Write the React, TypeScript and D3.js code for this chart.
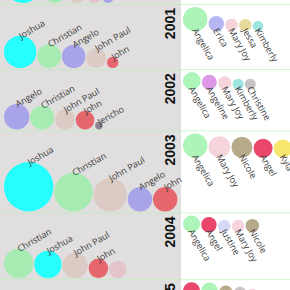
import React, { useMemo } from "react";
import * as d3 from "d3";

const years = [2000, 2001, 2002, 2003, 2004, 2005];

const boyNames: string[][] = [
  ["Joshua", "Christian", "John Paul", "", "Angelo"],
  ["Joshua", "Christian", "Angelo", "John Paul", "John"],
  ["Angelo", "Christian", "John Paul", "John", "Jericho"],
  ["Joshua", "Christian", "John Paul", "Angelo", "John"],
  ["Christian", "Joshua", "John Paul", "John", ""],
  [],
];
const boyValues: number[][] = [
  [578, 230, 135, 92, 47],
  [420, 230, 219, 160, 52],
  [258, 230, 160, 138, 23],
  [976, 596, 446, 238, 238],
  [346, 300, 258, 154, 121],
  [],
];

const girlNames: string[][] = [
  ["Angelica", "Erica", "Mary Joy", "Jessa", "Kimberly"],
  ["Angelica", "Erica", "Mary Joy", "Jessa", "Kimberly"],
  ["Angelica", "Angeline", "Mary Joy", "Kimberly", "Christine"],
  ["Angelica", "Mary Joy", "Nicole", "Angel", "Kyla"],
  ["Angelica", "Angel", "Justine", "Mary Joy", "Nicole"],
  ["Angel", "Angelica", "Nicole", "Christine", "Mary Joy"],
];
const girlValues: number[][] = [
  [194, 78, 78, 58, 48],
  [238, 95, 64, 62, 45],
  [124, 90, 72, 48, 48],
  [238, 187, 176, 144, 135],
  [116, 95, 64, 64, 74],
  [116, 110, 74, 62, 43],
];

const nameColors: Record<string, string> = {
  Joshua: "#26fdfd",
  Christian: "#a6ecb2",
  Angelo: "#a8a4ea",
  "John Paul": "#dccbc4",
  John: "#e6666e",
  Jericho: "#8a8690",
  "": "#e4c4cb",
  Angelica: "#acf4b8",
  Erica: "#b6b6f2",
  "Mary Joy": "#f6d4dc",
  Jessa: "#e6da9e",
  Kimberly: "#9ee4e0",
  Angeline: "#dc9ae6",
  Christine: "#c6c2c6",
  Nicole: "#b6aa8a",
  Angel: "#e8466a",
  Kyla: "#f8e66e",
  Justine: "#d6daf4",
};

const W = 290;
const H = 290;
const GREY_W = 181;
const LABEL_FONT = "9px 'Open Sans'";

function useMeasure() {
  return useMemo(() => {
    const ctx = document.createElement("canvas").getContext("2d");
    return (s: string) => {
      if (!ctx) return s.length * 4.4;
      ctx.font = LABEL_FONT;
      return ctx.measureText(s).width;
    };
  }, []);
}

export default function App() {
  const measure = useMeasure();
  const r = d3.scaleSqrt().domain([0, 1000]).range([0, 25]);

  const layout = useMemo(() => {
    const heights = years.map((_, i) => {
      const bNeed = d3.max(boyValues[i].map((v, j) => 2 * r(v) + measure(boyNames[i][j]) / 2 + 3.1)) ?? 0;
      const gMaxD = 2 * (d3.max(girlValues[i].map((v) => r(v))) ?? 0);
      const gNeed = 3 + gMaxD - 1 + 0.866 * (d3.max(girlNames[i].map((n) => measure(n))) ?? 0) + 5;
      return Math.max(bNeed + 15.5, gNeed);
    });
    const tops: number[] = [];
    let y = 4 - heights[0];
    heights.forEach((h) => {
      tops.push(y);
      y += h;
    });
    const rows = years.map((yr, i) => {
      const top = tops[i];
      const h = heights[i];
      let x = 4;
      const bBottom = top + h - 1;
      const boys = boyValues[i].map((v, j) => {
        const rr = r(v);
        const cx = x + rr;
        x += 2 * rr + 0.8;
        return { name: boyNames[i][j], cx, cy: bBottom - rr, r: rr };
      });
      let gx = 183;
      const gMaxR = d3.max(girlValues[i].map((v) => r(v))) ?? 0;
      const gBottom = top + 3 + 2 * gMaxR;
      const girls = girlValues[i].map((v, j) => {
        const rr = r(v);
        const cx = gx + rr;
        gx += 2 * rr + 1.2;
        return { name: girlNames[i][j], cx, cy: gBottom - rr, r: rr, bottom: gBottom };
      });
      return { year: yr, top, h, boys, girls };
    });
    return rows;
  }, [measure]);

  return (
    <div style={{ position: "absolute", left: 0, top: 0, width: W, height: H }}>
      <svg width={W} height={H} style={{ display: "block", overflow: "hidden", background: "#ffffff" }}>
        <rect x={0} y={0} width={GREY_W} height={H} fill="#e0dede" />
        {layout.map((row) => (
          <line
            key={"l" + row.year}
            x1={0}
            x2={W}
            y1={row.top + row.h + 0.5}
            y2={row.top + row.h + 0.5}
            stroke="#b8f0b8"
            strokeOpacity={0.65}
            strokeWidth={1}
          />
        ))}
        {layout.map((row) => (
          <g key={"r" + row.year}>
            {row.boys.map((b, j) => (
              <circle key={"bc" + j} cx={b.cx} cy={b.cy} r={b.r} fill={nameColors[b.name]} />
            ))}
            {row.girls.map((g, j) => (
              <circle key={"gc" + j} cx={g.cx} cy={g.cy} r={g.r} fill={nameColors[g.name]} />
            ))}
            {row.boys.map((b, j) =>
              b.name ? (
                <text
                  key={"bt" + j}
                  transform={`translate(${b.cx + 1},${b.cy - b.r + 3.5}) rotate(-30)`}
                  fontFamily="'Open Sans', sans-serif"
                  fontSize={9}
                  fill="#3a3a3a"
                >
                  {b.name}
                </text>
              ) : null
            )}
            {row.girls.map((g, j) => (
              <text
                key={"gt" + j}
                transform={`translate(${g.cx - 3.5},${g.bottom - 1}) rotate(60)`}
                fontFamily="'Open Sans', sans-serif"
                fontSize={9}
                fill="#3a3a3a"
              >
                {g.name}
              </text>
            ))}
            <text
              transform={`translate(174.5,${row.top + 4}) rotate(-90)`}
              textAnchor="end"
              fontFamily="'Liberation Sans', Arial, sans-serif"
              fontWeight="bold"
              fontSize={14}
              fill="#111"
            >
              {row.year}
            </text>
          </g>
        ))}
      </svg>
    </div>
  );
}
